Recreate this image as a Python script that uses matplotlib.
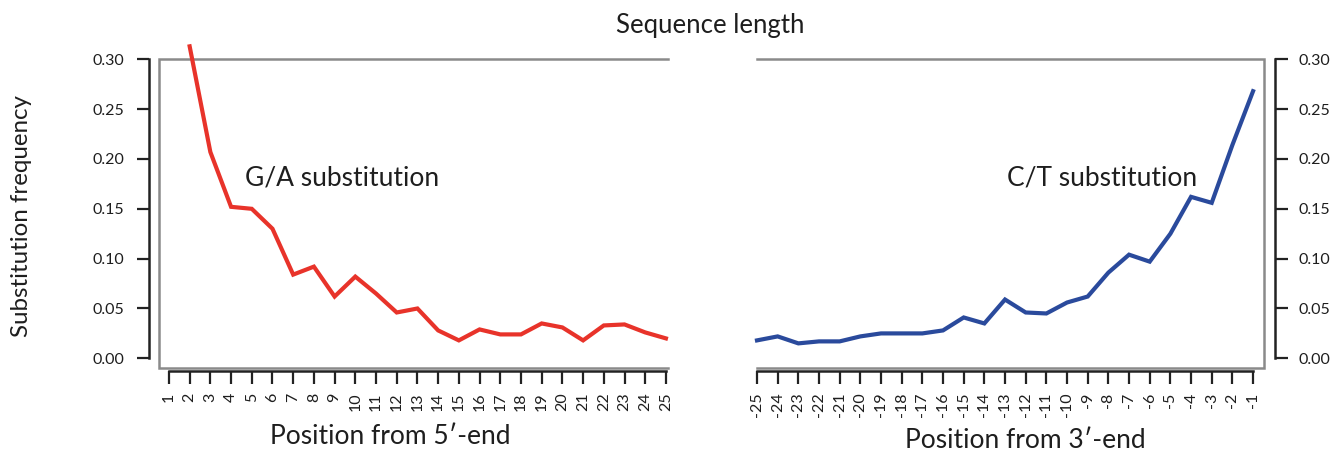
import matplotlib
matplotlib.use("Agg")
import matplotlib.pyplot as plt
from matplotlib.lines import Line2D

plt.rcParams['font.family'] = ['Lato', 'DejaVu Sans']

# ---- data ----
pos5 = list(range(2, 26))
ga_freq = [0.313, 0.207, 0.152, 0.150, 0.130, 0.084, 0.092, 0.062, 0.082, 0.065,
           0.046, 0.050, 0.028, 0.018, 0.029, 0.024, 0.024, 0.035, 0.031, 0.018,
           0.033, 0.034, 0.026, 0.020]
pos3 = list(range(-25, 0))
ct_freq = [0.018, 0.022, 0.015, 0.017, 0.017, 0.022, 0.025, 0.025, 0.025, 0.028,
           0.041, 0.035, 0.059, 0.046, 0.045, 0.056, 0.062, 0.086, 0.104, 0.097,
           0.125, 0.162, 0.156, 0.214, 0.268]
xticks5 = list(range(1, 26))
xticks3 = list(range(-25, 0))
yticks = [0.00, 0.05, 0.10, 0.15, 0.20, 0.25, 0.30]

W, H = 1335, 454
fig = plt.figure(figsize=(W / 100, H / 100), dpi=100)

def frac(x0, x1, ytop, ybot):
    return [x0 / W, 1 - ybot / H, (x1 - x0) / W, (ybot - ytop) / H]

axL = fig.add_axes(frac(159, 668, 59.3, 368))
axR = fig.add_axes(frac(757, 1264, 59.3, 368))

gray = '#8a8a8a'
dark = '#222222'
red = '#e8332a'
blue = '#2a4a9c'
txt = '#1e1e1e'

for ax in (axL, axR):
    ax.set_ylim(-0.0097, 0.30)
    for s in ax.spines.values():
        s.set_visible(False)
    ax.set_yticks(yticks)
    ax.set_yticklabels([f"{v:.2f}" for v in yticks])
    ax.tick_params(axis='both', direction='out', length=9, width=1.6, color=dark,
                   labelsize=11.5, labelcolor=txt)
    ax.tick_params(axis='x', pad=6, labelrotation=90)

axL.set_xlim(0.52, 25.1)
axR.set_xlim(-25.0, -0.47)

# gray frame
axL.add_line(Line2D([1, 0, 0, 1], [1, 1, 0, 0], transform=axL.transAxes,
                    color=gray, lw=1.8, clip_on=False, solid_joinstyle='miter'))
axR.add_line(Line2D([0, 1, 1, 0], [1, 1, 0, 0], transform=axR.transAxes,
                    color=gray, lw=1.8, clip_on=False, solid_joinstyle='miter'))

# dark axes
axL.spines['left'].set_visible(True)
axL.spines['left'].set_position(('outward', 7.2))
axL.spines['left'].set_bounds(0, 0.30)
axL.spines['bottom'].set_visible(True)
axL.spines['bottom'].set_position(('outward', 2.5))
axL.spines['bottom'].set_bounds(1, 25)
axL.yaxis.set_ticks_position('left')
axL.tick_params(axis='y', pad=9)

axR.spines['right'].set_visible(True)
axR.spines['right'].set_position(('outward', 8))
axR.spines['right'].set_bounds(0, 0.30)
axR.spines['bottom'].set_visible(True)
axR.spines['bottom'].set_position(('outward', 2.5))
axR.spines['bottom'].set_bounds(-25, -1)
axR.yaxis.set_ticks_position('right')
axR.yaxis.set_label_position('right')
axR.tick_params(axis='y', pad=8)

for ax in (axL, axR):
    for k in ('left', 'right', 'bottom'):
        ax.spines[k].set_color(dark)
        ax.spines[k].set_linewidth(1.8)

axL.set_xticks(xticks5)
axL.set_xticklabels([str(v) for v in xticks5])
axR.set_xticks(xticks3)
axR.set_xticklabels([str(v) for v in xticks3])

axL.plot(pos5, ga_freq, color=red, lw=3, clip_on=False, solid_joinstyle='miter')
axR.plot(pos3, ct_freq, color=blue, lw=3, clip_on=False, solid_joinstyle='miter')

axL.text(4.67, 0.181, 'G/A substitution', fontsize=19, va='center', ha='left', color=txt)
axR.text(-12.9, 0.181, 'C/T substitution', fontsize=19, va='center', ha='left', color=txt)

fig.text(710 / W, 1 - 26 / H, 'Sequence length', fontsize=18.5, ha='center', va='center', color=txt)
fig.text(22 / W, 1 - 216 / H, 'Substitution frequency', fontsize=17.4, rotation=90,
         ha='center', va='center', color=txt)
fig.text(390 / W, 1 - 436 / H, 'Position from 5\u2032-end', fontsize=19, ha='center', va='center', color=txt)
fig.text(1025 / W, 1 - 441 / H, 'Position from 3\u2032-end', fontsize=19, ha='center', va='center', color=txt)

fig.savefig('out.png', dpi=100, facecolor='white')
